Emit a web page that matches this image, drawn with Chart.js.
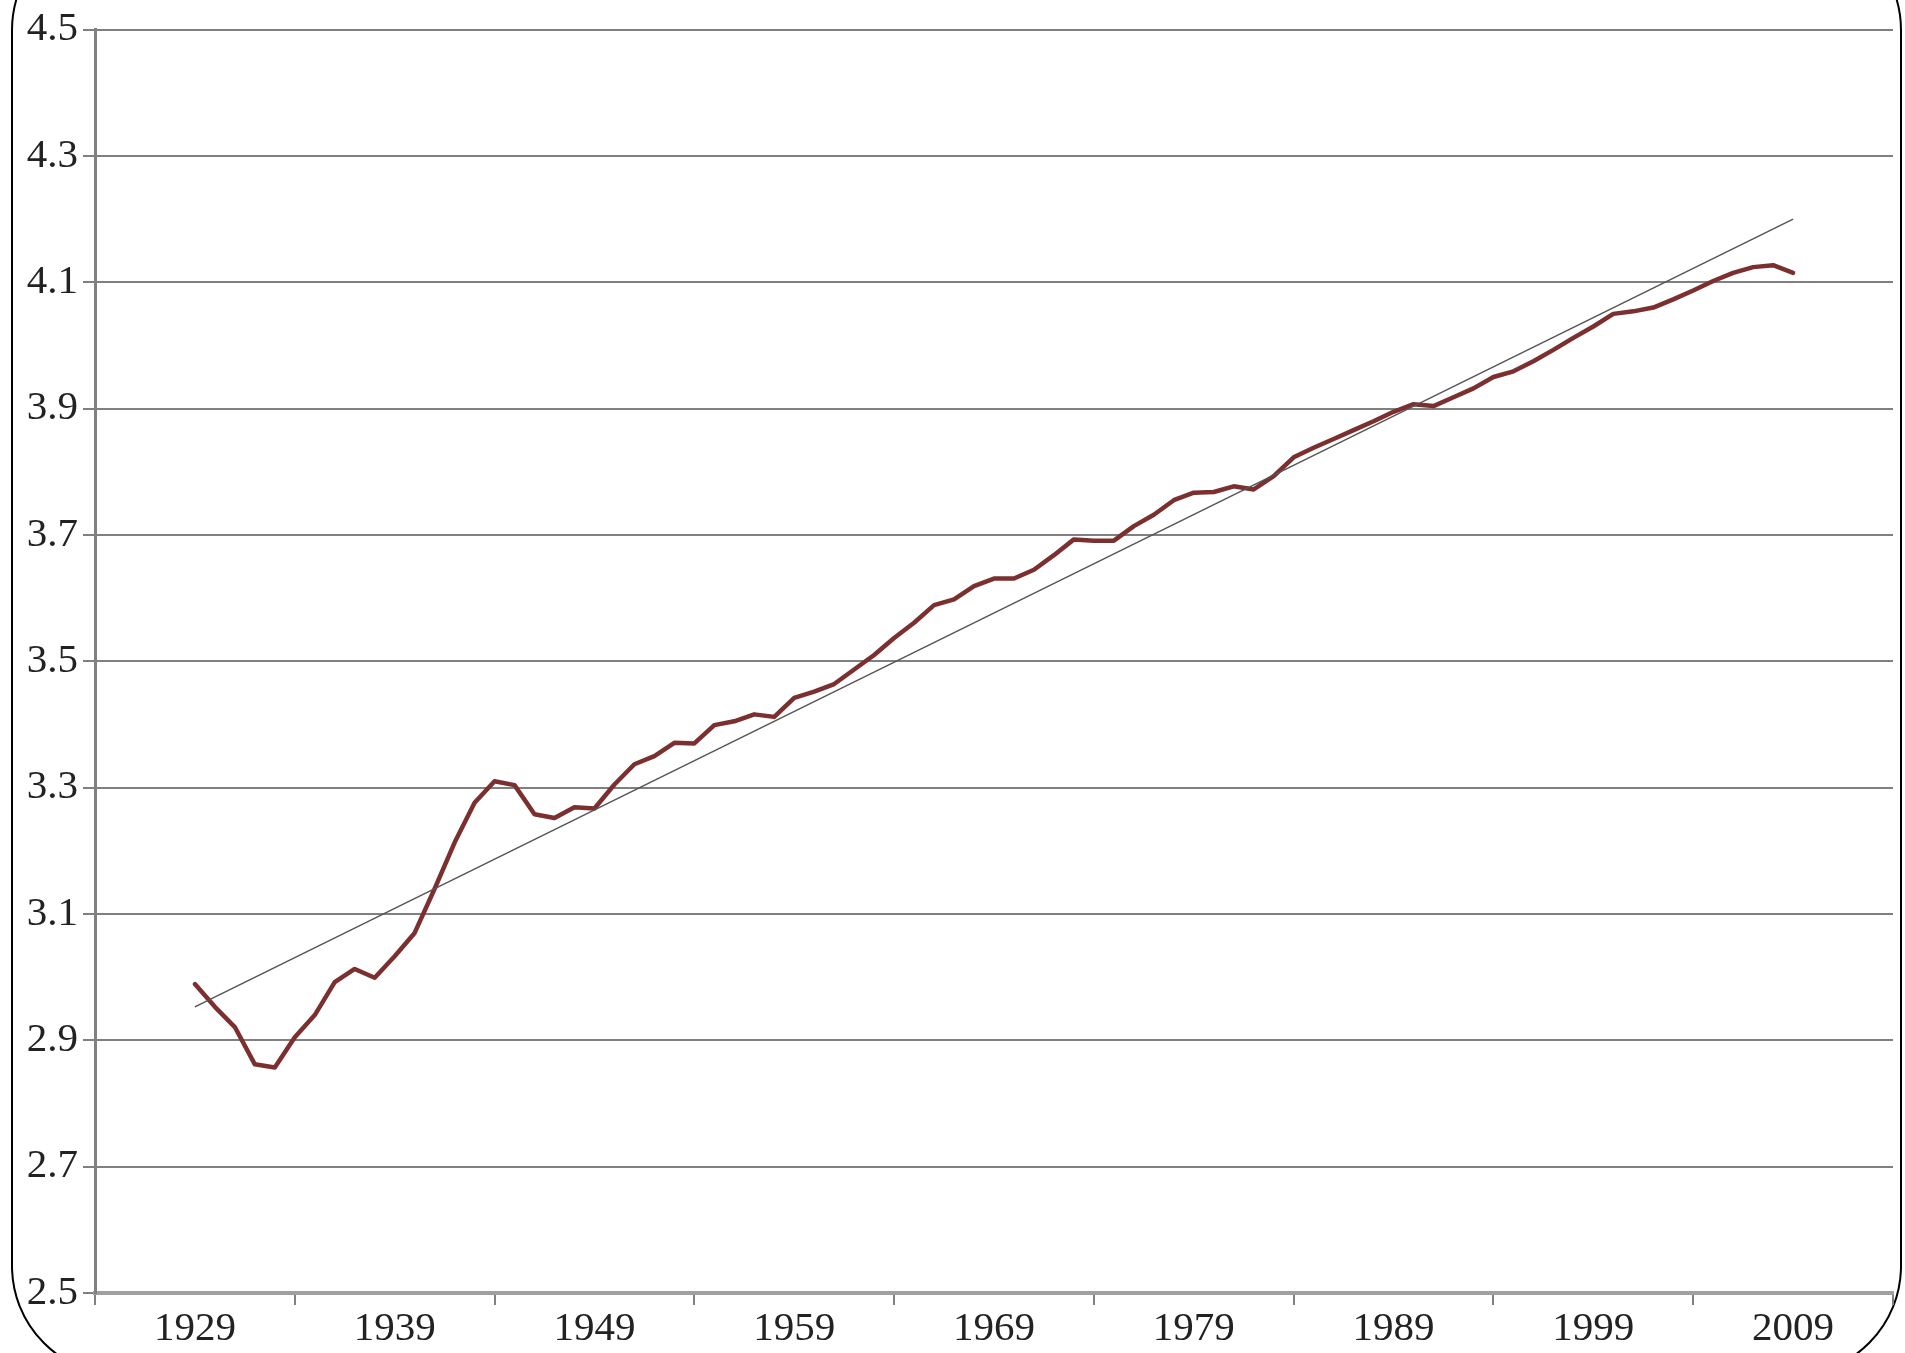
<!DOCTYPE html>
<html>
<head>
<meta charset="utf-8">
<script src="https://cdn.jsdelivr.net/npm/chart.js@4/dist/chart.umd.min.js"></script>
<style>
html,body{margin:0;padding:0;background:#fff;overflow:hidden;}
#wrap{position:relative;width:1905px;height:1353px;}
#frame{position:absolute;left:11px;top:-80px;width:1891px;height:1456px;box-sizing:border-box;border:2px solid #000;border-radius:110px;}
#chart{position:absolute;left:0;top:0;}
</style>
</head>
<body>
<div id="wrap">
<div id="frame"></div>
<canvas id="chart" width="1905" height="1353"></canvas>
</div>
<script>
window.addEventListener("load", () => {

/* ========= DATA ========= */

const years = [
1929,1930,1931,1932,1933,1934,1935,1936,1937,1938,
1939,1940,1941,1942,1943,1944,1945,1946,1947,1948,
1949,1950,1951,1952,1953,1954,1955,1956,1957,1958,
1959,1960,1961,1962,1963,1964,1965,1966,1967,1968,
1969,1970,1971,1972,1973,1974,1975,1976,1977,1978,
1979,1980,1981,1982,1983,1984,1985,1986,1987,1988,
1989,1990,1991,1992,1993,1994,1995,1996,1997,1998,
1999,2000,2001,2002,2003,2004,2005,2006,2007,2008,
2009
];

const values = [
2.989,2.953,2.921,2.862,2.857,2.905,2.940,2.992,3.013,2.999,
3.033,3.070,3.140,3.213,3.276,3.310,3.304,3.258,3.252,3.269,
3.267,3.305,3.337,3.350,3.371,3.370,3.399,3.405,3.416,3.412,
3.442,3.452,3.464,3.487,3.510,3.537,3.561,3.589,3.598,3.619,
3.631,3.631,3.645,3.668,3.693,3.691,3.691,3.714,3.732,3.755,
3.767,3.768,3.777,3.772,3.793,3.823,3.838,3.852,3.866,3.880,
3.895,3.907,3.904,3.918,3.932,3.950,3.959,3.975,3.993,4.012,
4.030,4.050,4.054,4.060,4.073,4.087,4.102,4.115,4.124,4.127,
4.115
];

// straight trend, end points only
const trendYears = [1929, 2009];
const trendValues = [2.953, 4.200];

// x axis: tick marks between decades, labels on 1929, 1939, ...
const tickMarkYears = [1924,1934,1944,1954,1964,1974,1984,1994,2004,2014];
const labelYears = [1929,1939,1949,1959,1969,1979,1989,1999,2009];

const GRID = "#808080";
const FONT = {family:"'Liberation Serif', 'Times New Roman', serif", size:41};

/* ========= CHART ========= */

const ctx = document.getElementById("chart").getContext("2d");

new Chart(ctx, {
type: "line",
data: {
datasets: [
{
data: years.map((y,i) => ({x:y, y:values[i]})),
borderColor: "#7c2f2f",
borderWidth: 4.5,
borderJoinStyle: "round",
borderCapStyle: "round",
pointRadius: 0,
tension: 0,
fill: false,
order: 1
},
{
data: trendYears.map((y,i) => ({x:y, y:trendValues[i]})),
borderColor: "#555",
borderWidth: 1.5,
pointRadius: 0,
tension: 0,
fill: false,
order: 0
}
]
},
options: {
responsive: false,
animation: false,
layout: {padding: {top:28, right:12, left:0, bottom:0}},
plugins: {
legend: {display:false},
tooltip: {enabled:false},
title: {display:false}
},
scales: {
x: {
type: "linear",
min: 1924,
max: 2014,
afterBuildTicks: axis => {
axis.ticks = tickMarkYears.concat(labelYears).sort((a,b) => a-b).map(v => ({value:v}));
},
afterFit: s => { s.height = 60; },
ticks: {
autoSkip: false,
maxRotation: 0,
padding: 0,
color: "#222",
font: FONT,
callback: v => labelYears.includes(v) ? String(v) : ""
},
grid: {
drawOnChartArea: false,
drawTicks: true,
tickLength: 12,
lineWidth: 2,
tickColor: c => (c.tick && tickMarkYears.includes(c.tick.value)) ? GRID : "rgba(0,0,0,0)"
},
border: {display:true, color:"#a0a0a0", width:4}
},
y: {
min: 2.5,
max: 4.5,
afterBuildTicks: axis => {
const t = [];
for (let v = 2.5; v <= 4.5001; v += 0.2) t.push({value: Math.round(v*10)/10});
axis.ticks = t;
},
afterFit: s => { s.width = 95; },
ticks: {
padding: 5,
color: "#222",
font: FONT,
callback: v => v.toFixed(1)
},
grid: {
color: GRID,
lineWidth: 2,
tickLength: 12,
tickColor: GRID
},
border: {display:true, color:GRID, width:3}
}
}
}
});

});
</script>
</body>
</html>
